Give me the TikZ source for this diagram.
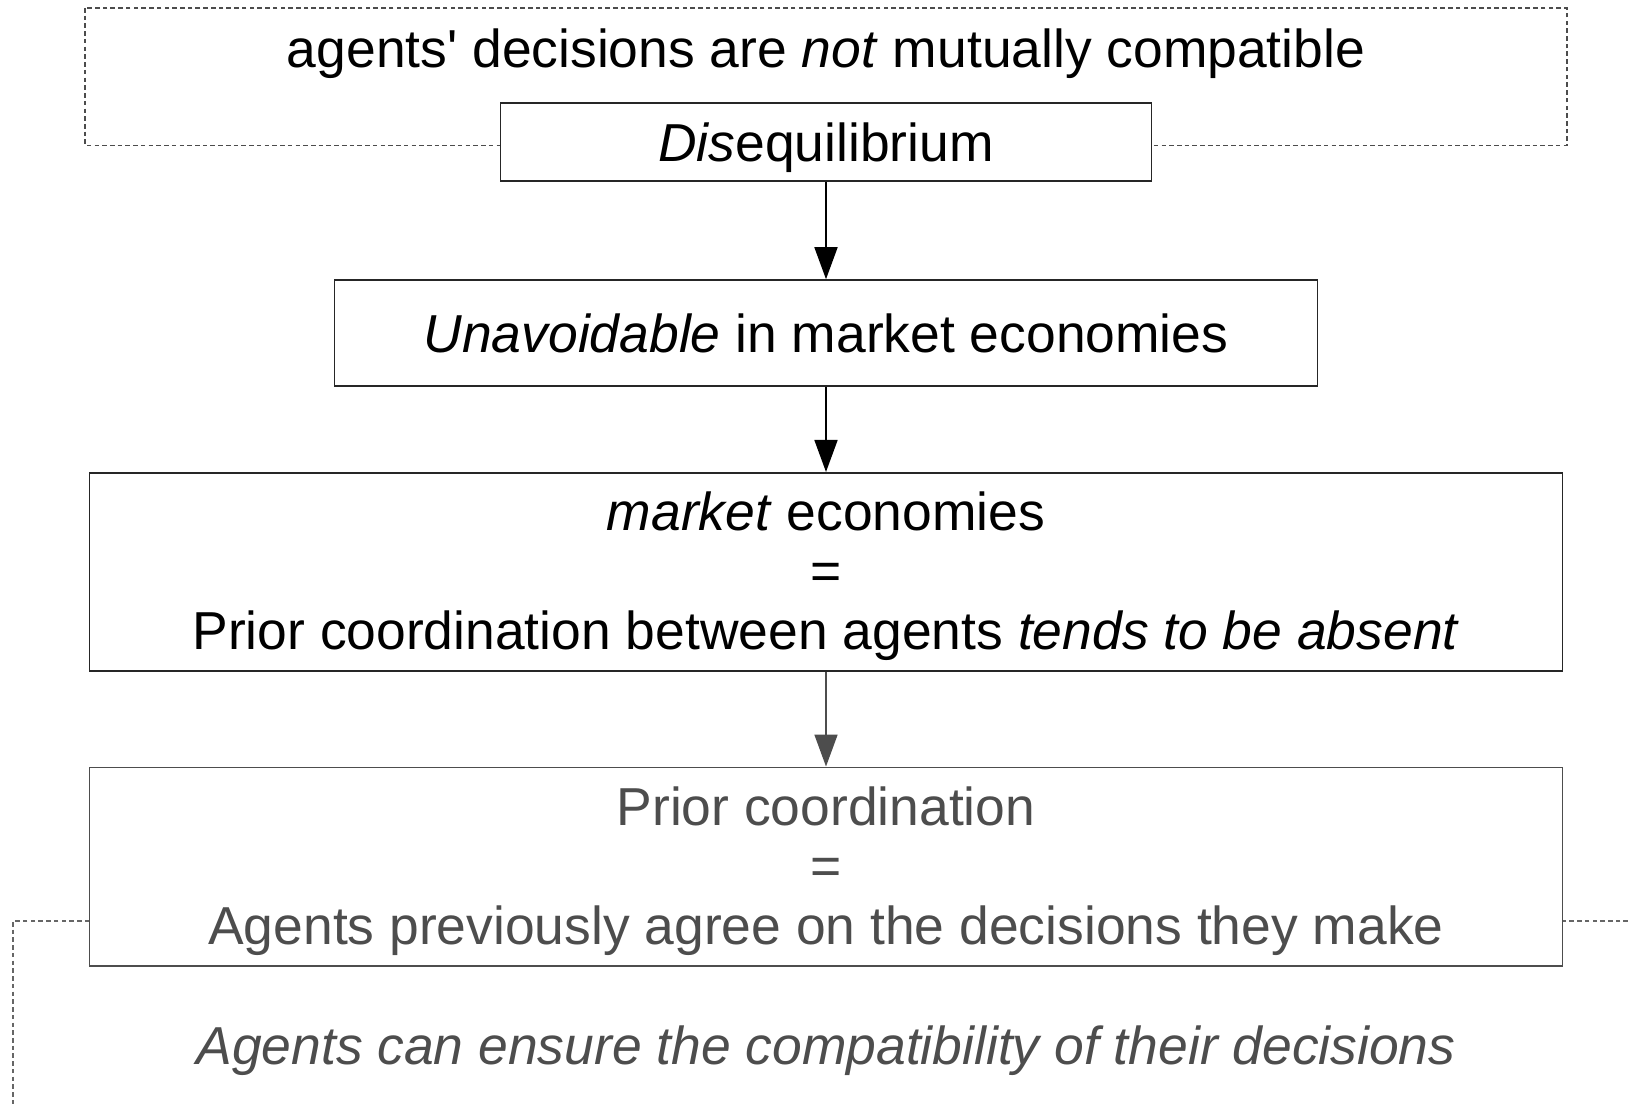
\documentclass[tikz,border=0pt]{standalone}
\usepackage{fontspec}
\setmainfont{Liberation Sans}
\usetikzlibrary{positioning, arrows.meta}
\definecolor{fadegrey}{HTML}{4D4D4D}

\begin{document}
\begin{tikzpicture}[
  every node/.style={font=\fontsize{15.2}{17}\selectfont},
  box/.style={draw=black!85, fill=white, line width=.5pt, inner sep=0pt, align=center},
  frame/.style={draw=black!70, line width=.4pt, dash pattern=on 1.3pt off .9pt},
  arr/.style={-{Triangle[width=.23cm,length=.32cm]}, line width=.5pt}]
\useasboundingbox (0,0) rectangle (16.28,-11.04);
\draw [frame] (0.85,-0.08) rectangle (15.67,-1.454);
\draw [frame, draw=black!60] (16.28,-9.21) -- (0.13,-9.21) -- (0.13,-11.04);
\node [text depth=0pt] (compat) at (8.26,-0.478) {agents\textquotesingle{} decisions are \textit{not} mutually compatible};
\node [box, text depth=0pt, minimum width=6.51cm, minimum height=.779cm] (diseq) at (8.26,-1.418) {\textit{Dis}equilibrium};
\node [box, minimum width=9.83cm, minimum height=1.059cm, below=.976cm of diseq] (unav) {\textit{Unavoidable} in market economies};
\node [box, minimum width=14.73cm, minimum height=1.983cm, below=.851cm of unav] (market) {\rule{0pt}{13.3pt}\textit{market} economies\\=\\Prior coordination between agents \textit{tends to be absent}};
\node [box, draw=fadegrey, text=fadegrey, minimum width=14.73cm, minimum height=1.983cm, below=.945cm of market] (prior) {\rule{0pt}{13.6pt}Prior coordination\\=\\Agents previously agree on the decisions they make};
\node [text=fadegrey, text depth=0pt] (ensure) at (8.26,-10.456) {\textit{Agents can ensure the compatibility of their decisions}};
\draw [arr] (diseq) -- (unav);
\draw [arr] (unav) -- (market);
\draw [arr, draw=fadegrey, fill=fadegrey] (market) -- (prior);
\end{tikzpicture}
\end{document}
